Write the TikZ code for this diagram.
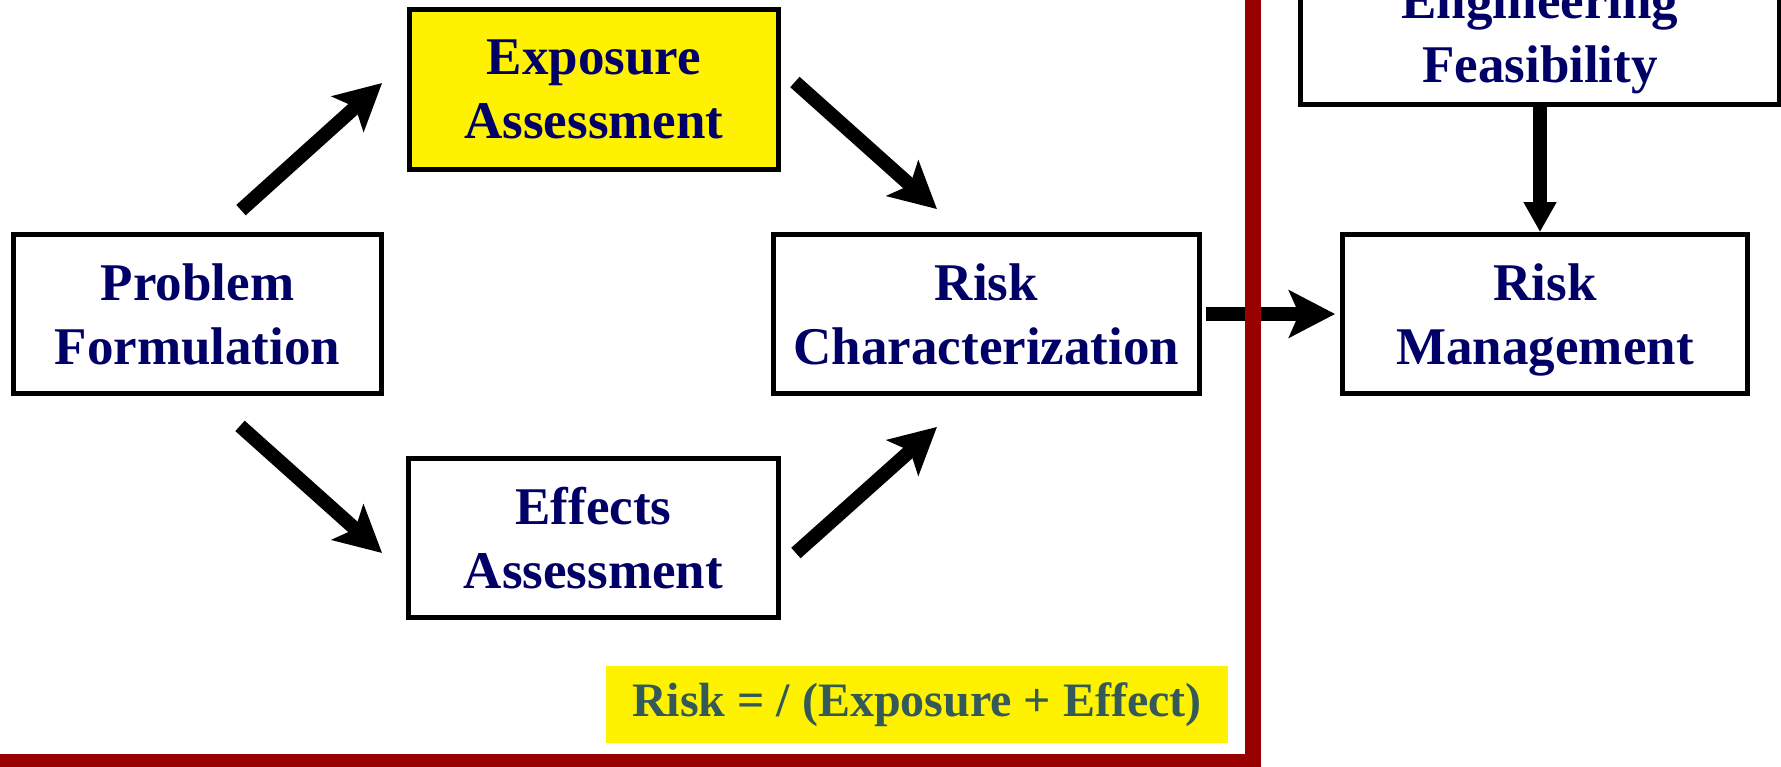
\documentclass[tikz,border=0pt]{standalone}
\usepackage{fontspec}
\setmainfont{Liberation Serif}
\usepackage{xcolor}
\usepackage{tikz}
\usetikzlibrary{arrows.meta}

\definecolor{boxtext}{HTML}{000066}
\definecolor{formulatext}{HTML}{335959}
\definecolor{frameline}{HTML}{990000}

\begin{document}
\begin{tikzpicture}[
		x=0.5pt, y=-0.5pt,
		box/.style={
			rectangle, draw=black, line width=2.4pt, fill=white,
			minimum height=79.5pt, inner sep=0pt, align=center, text depth=0pt,
			text=boxtext, font=\fontsize{26.5}{32}\selectfont\bfseries
		},
		formula/.style={
			rectangle, fill=yellow, minimum width=311pt, minimum height=38.5pt,
			inner sep=0pt, text=formulatext, font=\fontsize{24}{28}\selectfont\bfseries
		},
		flow/.style={line width=7pt, -{Stealth[length=23pt, width=23.5pt, inset=5pt]}},
		feed/.style={line width=7pt, -{Triangle[length=15pt, width=15.5pt]}}
	]
		\useasboundingbox (0,0) rectangle (1781,766);

		\node[box, minimum width=184pt] (problem) at (197.5,314) {Problem\\Formulation};
		\node[box, fill=yellow, minimum width=184.5pt, minimum height=80pt] (exposure) at (594,89.5) {Exposure\\Assessment};
		\node[box, minimum width=185pt] (effects) at (593.5,538) {Effects\\Assessment};
		\node[box, minimum width=213pt] (riskchar) at (986.5,314) {Risk\\Characterization};
		\node[box, minimum width=202.5pt] (riskmgmt) at (1545,314) {Risk\\Management};
		\node[box, minimum width=239.5pt, minimum height=72.5pt] (engfeas) at (1540,32) {Engineering\\Feasibility};

		\node[formula] (eq) at (917,704.5) {Risk = / (Exposure + Effect)};

		\draw[flow] ([xshift=21.75pt, yshift=11pt]problem.north) -- ([xshift=-12.5pt, yshift=3.25pt]exposure.west);
		\draw[flow] ([xshift=7pt, yshift=3.75pt]exposure.east) -- ([xshift=-24.75pt, yshift=11.5pt]riskchar.north);
		\draw[flow] ([xshift=21.25pt, yshift=-15pt]problem.south) -- ([xshift=-12pt, yshift=-7.5pt]effects.west);
		\draw[flow] ([xshift=7.5pt, yshift=-7.5pt]effects.east) -- ([xshift=-24.75pt, yshift=-15.5pt]riskchar.south);
		\draw[flow, shorten <=2pt, shorten >=2.5pt] (riskchar) -- (riskmgmt);
		\draw[feed] (engfeas.south) -- (engfeas.south |- riskmgmt.north);

		% frame round the assessment part
		\draw[frameline, line width=8pt] (-20,762) -- (1253,762) -- (1253,-20);
	\end{tikzpicture}
\end{document}
